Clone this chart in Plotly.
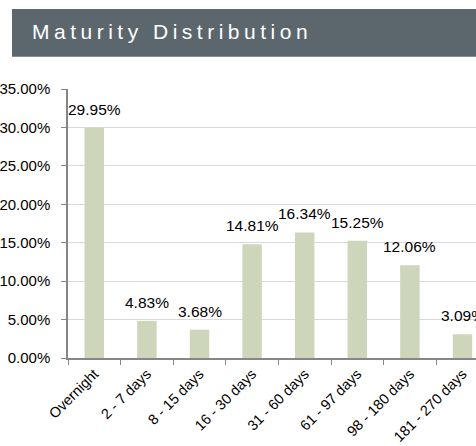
import plotly.graph_objects as go

categories = ["Overnight", "2 - 7 days", "8 - 15 days", "16 - 30 days", "31 - 60 days",
              "61 - 97 days", "98 - 180 days", "181 - 270 days"]
values = [29.95, 4.83, 3.68, 14.81, 16.34, 15.25, 12.06, 3.09]
y_ticks = [0, 5, 10, 15, 20, 25, 30, 35]
y_tick_labels = ["0.00%", "5.00%", "10.00%", "15.00%", "20.00%", "25.00%", "30.00%", "35.00%"]
title_text = "Maturity Distribution"

W, H = 476, 446
AX_LEFT, AX_TOP, AX_BOTTOM = 68, 89, 358
ML, MR, MT = AX_LEFT, 0, AX_TOP
MB = H - AX_BOTTOM
PW, PH = W - ML - MR, H - MT - MB
CAT_W = 52.6

def px_x(p):
    return (p - ML) / PW

def px_y(p):
    return (H - MB - p) / PH

FONT = "Liberation Sans, Arial"

fig = go.Figure()
fig.add_trace(go.Bar(
    x=categories, y=values,
    marker=dict(color="#cdd6bb", line=dict(width=0)),
    width=0.37,
    hoverinfo="x+y",
))

label_annotations = [
    dict(x=c, y=v, xref="x", yref="y", text=f"{v:.2f}%", showarrow=False,
         xanchor="center", yanchor="bottom", yshift=8,
         font=dict(family=FONT, size=15.5, color="#000000"))
    for c, v in zip(categories, values)
]

fig.update_layout(
    width=W, height=H,
    margin=dict(l=ML, r=MR, t=MT, b=MB, pad=0, autoexpand=False),
    paper_bgcolor="white", plot_bgcolor="white",
    showlegend=False,
    font=dict(family=FONT, size=15, color="#000000"),
    xaxis=dict(
        type="category", range=[-0.5, -0.5 + PW / CAT_W],
        showline=True, linecolor="#868686", linewidth=1.5,
        ticks="outside", tickson="boundaries", ticklen=5, tickcolor="#868686",
        tickangle=-45, showgrid=False, automargin=False,
        tickfont=dict(size=14.5),
    ),
    yaxis=dict(
        range=[0, 35], tickvals=y_ticks, ticktext=y_tick_labels,
        showline=True, linecolor="#868686", linewidth=1.5,
        ticks="outside", ticklen=5, tickcolor="#868686",
        ticklabelstandoff=8, automargin=False,
        showgrid=True, gridcolor="#d9d9d9", gridwidth=1, zeroline=False,
        tickfont=dict(size=15),
    ),
    shapes=[dict(
        type="rect", xref="paper", yref="paper",
        x0=px_x(12), x1=px_x(W + 5), y0=px_y(56.7), y1=px_y(9),
        fillcolor="#5b676d", line=dict(width=0), layer="above",
    )],
    annotations=[dict(
        xref="paper", yref="paper", x=px_x(29.5), y=px_y(31.5),
        xanchor="left", yanchor="middle", showarrow=False,
        text='<span style="letter-spacing:4.5px">' + title_text + '</span>',
        font=dict(family=FONT, size=21, color="#ffffff"),
    )] + label_annotations,
)

fig.write_html(
    "out.html",
    config={"displayModeBar": False},
    post_script="document.body.style.margin='0';document.body.style.overflow='hidden';",
)
